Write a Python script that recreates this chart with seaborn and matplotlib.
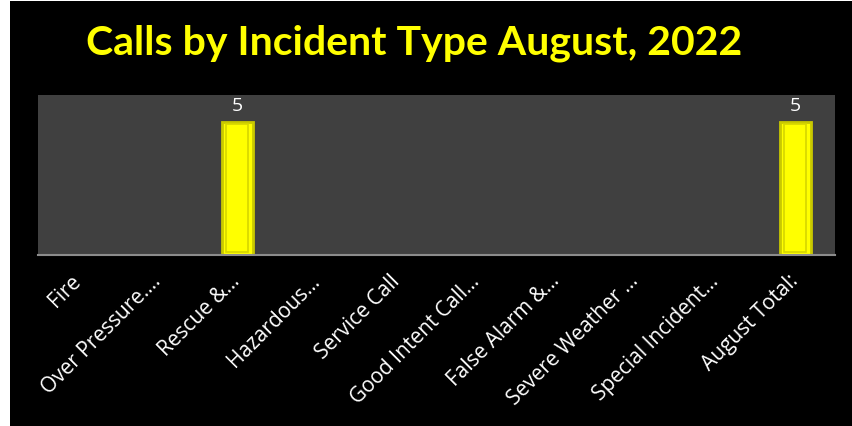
import matplotlib
matplotlib.use('Agg')
import matplotlib.pyplot as plt
import seaborn as sns
import pandas as pd
from matplotlib.patches import Rectangle

# Data
categories = ['Fire', 'Over Pressure.\u2026', 'Rescue &\u2026', 'Hazardous\u2026',
              'Service Call', 'Good Intent Call\u2026', 'False Alarm &\u2026',
              'Severe Weather \u2026', 'Special Incident\u2026', 'August Total:']
calls = [0, 0, 5, 0, 0, 0, 0, 0, 0, 5]

df = pd.DataFrame({'type': categories, 'calls': calls})

sns.set_theme(style='dark')
plt.rcParams['font.family'] = ['Open Sans', 'DejaVu Sans']

fig = plt.figure(figsize=(8.52, 4.27), dpi=100)
fig.patch.set_facecolor('black')
# thin white strips on the left and top edge of the slide capture
fig.add_artist(Rectangle((0, 0), 10 / 852, 1, transform=fig.transFigure,
                         facecolor='white', edgecolor='none'))
fig.add_artist(Rectangle((0, 1 - 2 / 427), 1, 2 / 427, transform=fig.transFigure,
                         facecolor='white', edgecolor='none'))

ax = fig.add_axes([38 / 852, 1 - 256 / 427, (835 - 38) / 852, 160 / 427])
ax.set_facecolor('#404040')

sns.barplot(data=df, x='type', y='calls', color='#ffff00', width=0.39,
            edgecolor='#c9c900', linewidth=2, saturation=1, ax=ax)

ax.set_ylim(0, 6)
ax.set_xlim(-0.5, len(categories) - 0.5)

# bevel look: a faint inner outline inside each drawn bar
for p in list(ax.patches):
    if p.get_height() > 0:
        dx = p.get_width() * 0.14
        dy = 0.1
        ax.add_patch(Rectangle((p.get_x() + dx, p.get_y() + dy),
                               p.get_width() - 2 * dx, p.get_height() - 2 * dy,
                               facecolor='none', edgecolor='#d6d600',
                               linewidth=1.2, zorder=p.get_zorder() + 0.1))

ax.set_yticks([])
ax.set_xlabel('')
ax.set_ylabel('')
for s in ['top', 'left', 'right']:
    ax.spines[s].set_visible(False)
ax.spines['bottom'].set_color('#8c8c8c')
ax.spines['bottom'].set_linewidth(1.5)
ax.grid(False)

# value labels above non-zero bars
for i, v in enumerate(calls):
    if v:
        ax.text(i, v + 0.3, str(v), ha='center', va='bottom',
                color='white', fontsize=14)

ax.tick_params(axis='x', length=0, pad=16, colors='white')
plt.setp(ax.get_xticklabels(), rotation=45, ha='right', va='center',
         rotation_mode='anchor', fontsize=15, color='white',
         family=['Open Sans', 'DejaVu Sans'])

fig.text(414 / 852, 1 - 43 / 427, 'Calls by Incident Type August, 2022',
         ha='center', va='center', color='#ffff00', fontsize=29.5,
         fontweight='bold', family=['Lato', 'DejaVu Sans'])

fig.savefig('out.png', dpi=100, facecolor=fig.get_facecolor())
